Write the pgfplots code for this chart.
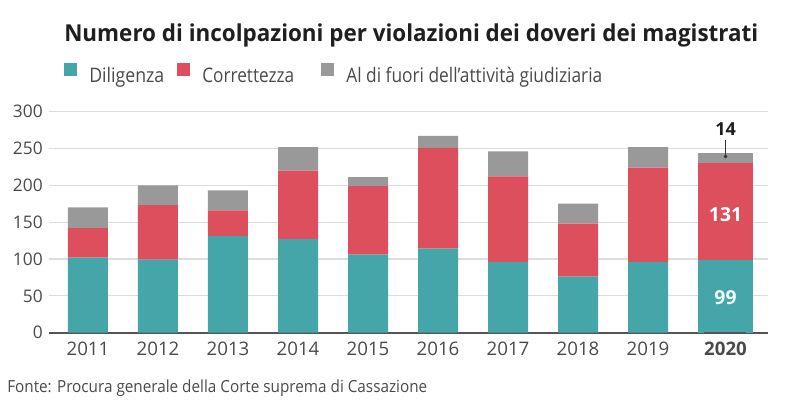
\documentclass[border=0pt]{standalone}
\usepackage{pgfplots}
\pgfplotsset{compat=1.18}
\usepackage{pgfplotstable}
\usepackage{fontspec}
\setmainfont{Open Sans}
\usepackage{graphicx}
\usetikzlibrary{arrows.meta}

\definecolor{cTeal}{HTML}{44A6A8}
\definecolor{cRed}{HTML}{DE4F5D}
\definecolor{cGray}{HTML}{999999}
\definecolor{cGrid}{HTML}{DDDDDD}
\definecolor{cAxis}{HTML}{555555}
\definecolor{cText}{HTML}{4A4A4A}

\pgfplotstableread{
x dil cor fuori
0 102 40 28
1 99 74 27
2 131 35 27
3 127 93 32
4 106 93 12
5 114 137 16
6 96 116 34
7 76 72 27
8 96 128 28
}\maindata

\pgfplotsset{samegeom/.style={
  at={(36.75pt,62.5pt)}, anchor=south west,
  scale only axis, width=539.25pt, height=165.75pt,
  xmin=-0.557, xmax=9.714, ymin=0, ymax=300,
  enlargelimits=false}}

\begin{document}
\begin{tikzpicture}
\path[use as bounding box] (0,0) rectangle (600pt,312pt);
\node[anchor=base west, inner sep=0pt, text=black!88] at (48pt,280.5pt)
  {\resizebox{520.5pt}{\height}{\fontsize{17.5pt}{20pt}\selectfont\bfseries Numero di incolpazioni per violazioni dei doveri dei magistrati}};

\begin{axis}[
  samegeom,
  ybar stacked, bar width=30pt,
  axis line style={draw=none},
  tick style={draw=none},
  major tick length=0pt,
  ytick={50,100,150,200,250,300},
  extra y ticks={0},
  extra y tick style={grid style={draw=cAxis, line width=1.3pt}},
  ymajorgrids, grid style={draw=cGrid, line width=0.9pt},
  xtick={0,1,2,3,4,5,6,7,8,9.107},
  xticklabels={2011,2012,2013,2014,2015,2016,2017,2018,2019,\textbf{2020}},
  /pgf/number format/assume math mode=true,
  yticklabel style={font=\fontsize{13pt}{15pt}\selectfont, text=cText, anchor=east, inner sep=0pt, xshift=-4.5pt},
  xticklabel style={font=\fontsize{14pt}{16pt}\selectfont, text=cText, anchor=north, inner sep=0pt, yshift=-7pt},
  legend columns=3,
  legend style={draw=none, fill=none, inner sep=0pt, at={(0.0209,1.2204)}, anchor=north west,
    nodes={inner sep=0pt, text=cText, font=\fontsize{15pt}{17pt}\selectfont},
    /tikz/every odd column/.append style={column sep=9pt}},
  legend image code/.code={\fill[#1,draw=none] (0pt,0pt) rectangle (9.75pt,9.75pt);},
]
\addplot[fill=cTeal, draw=none] table[x=x,y=dil]{\maindata};
\addlegendentry{\makebox[66pt][l]{\resizebox{56.25pt}{\height}{Diligenza}}}
\addplot[fill=cRed, draw=none] table[x=x,y=cor]{\maindata};
\addlegendentry{\makebox[89.25pt][l]{\resizebox{69pt}{\height}{Correttezza}}}
\addplot[fill=cGray, draw=none] table[x=x,y=fuori]{\maindata};
\addlegendentry{\resizebox{192pt}{\height}{Al di fuori dell’attività giudiziaria}}
\end{axis}

\begin{axis}[
  samegeom, hide axis, clip=false,
  ybar stacked, bar width=41.25pt,
]
\addplot[fill=cTeal, draw=none] coordinates {(9.107,99)};
\addplot[fill=cRed, draw=none] coordinates {(9.107,131)};
\addplot[fill=cGray, draw=none] coordinates {(9.107,14)};
\end{axis}

\begin{axis}[samegeom, hide axis, clip=false]
\node[text=white, font=\bfseries\fontsize{14.5pt}{16pt}\selectfont] at (axis cs:9.107,160) {131};
\node[text=cyan!6, font=\bfseries\fontsize{14.5pt}{16pt}\selectfont] at (axis cs:9.107,47) {99};
\node[text=black!88, font=\bfseries\fontsize{13.5pt}{15pt}\selectfont] at (axis cs:9.107,276) {14};
\draw[black!80, line width=0.8pt, -{Circle[length=2.5pt]}] (axis cs:9.107,261) -- (axis cs:9.107,237);
\draw[cAxis, line width=1.3pt] (axis cs:8.8,0) -- (axis cs:9.4,0);
\end{axis}

\node[anchor=base west, inner sep=0pt, text=cText] at (5.25pt,17.25pt)
  {\resizebox{315pt}{\height}{\fontsize{12.5pt}{15pt}\selectfont Fonte: Procura generale della Corte suprema di Cassazione}};
\end{tikzpicture}
\end{document}
